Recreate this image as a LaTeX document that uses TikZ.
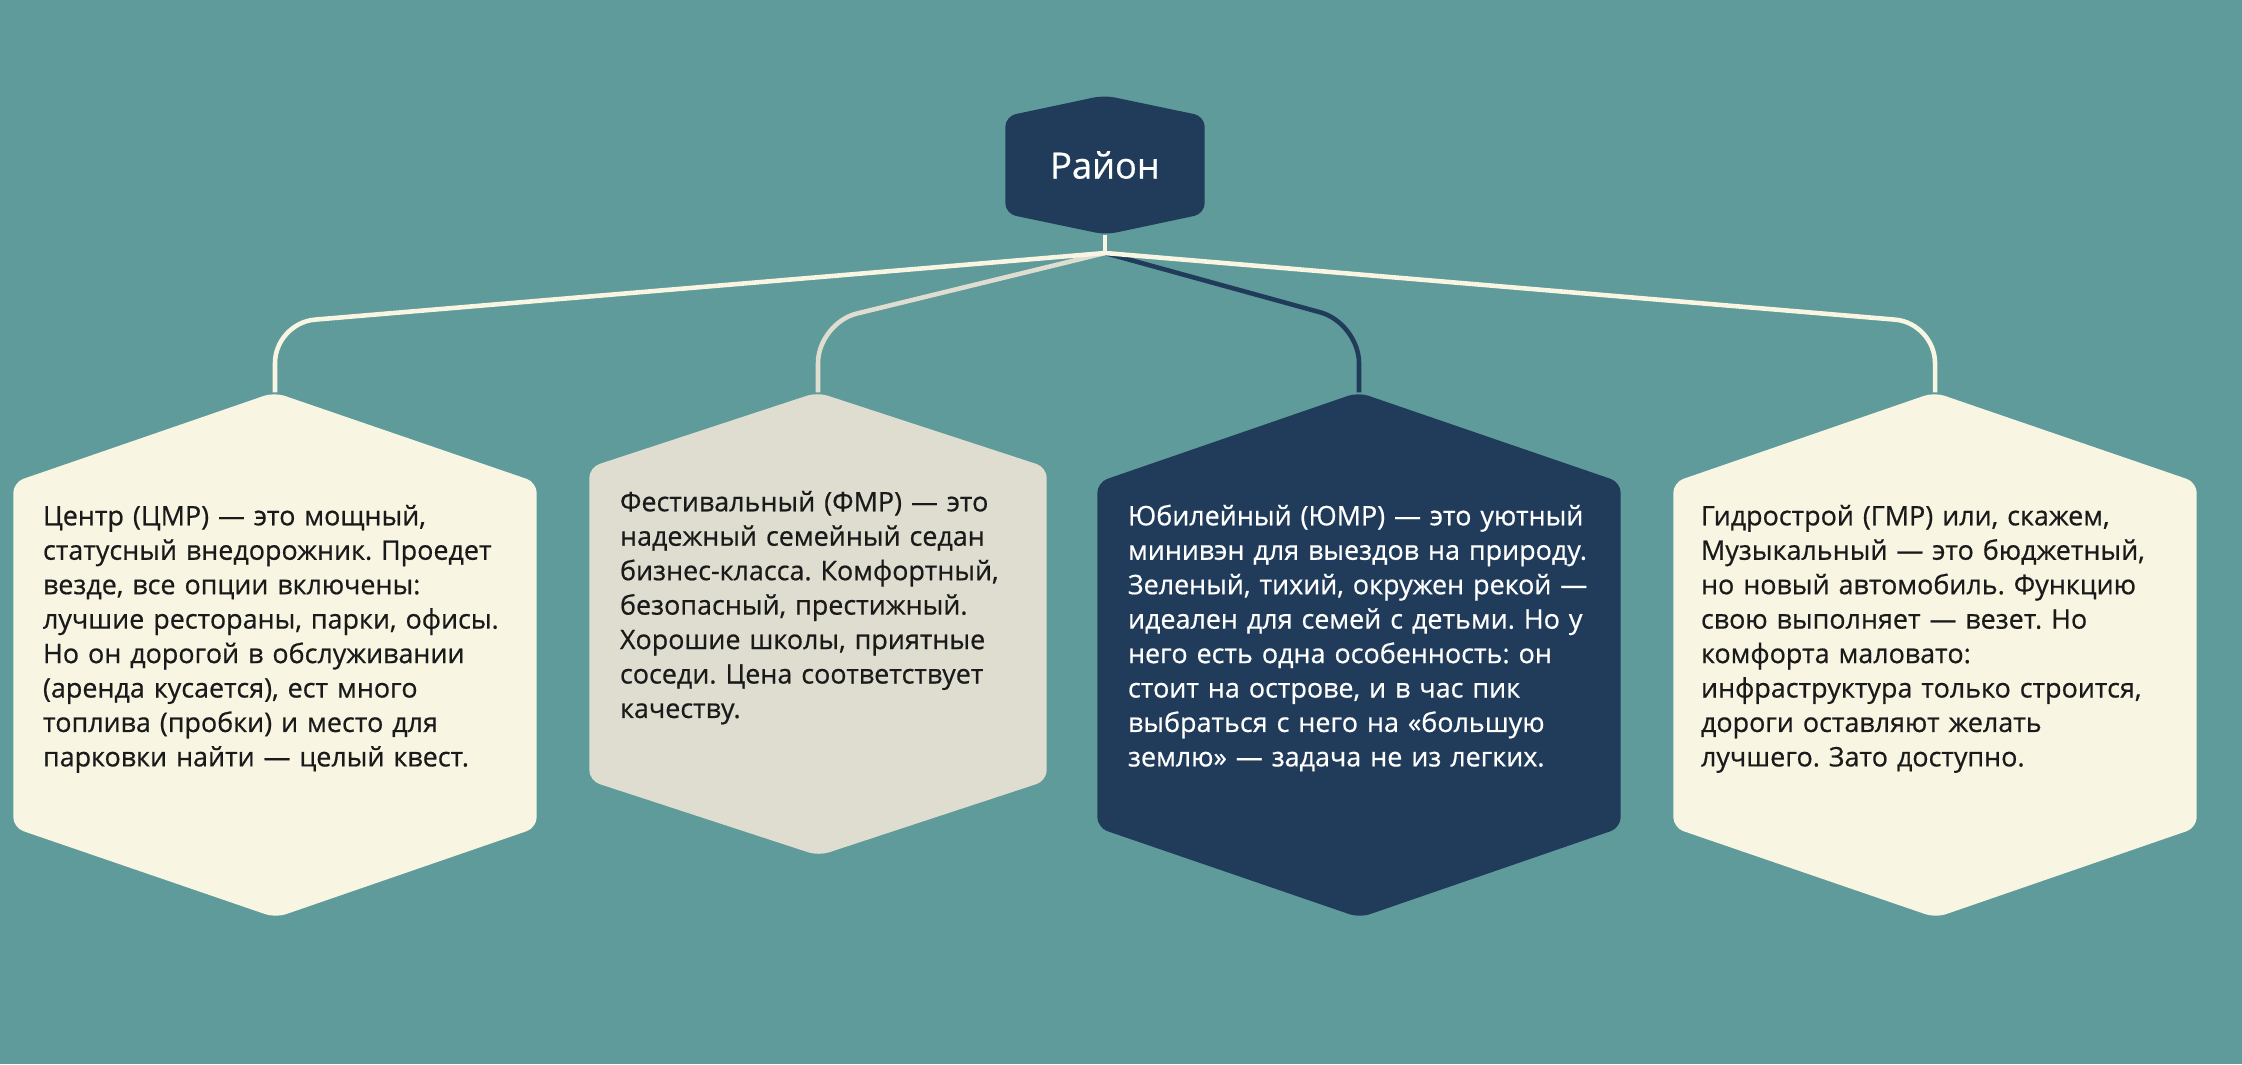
\documentclass[tikz,border=0pt]{standalone}
\usepackage{fontspec}
\setmainfont{Open Sans}[FakeBold=0.6]
\frenchspacing
\definecolor{sea}{HTML}{5F9B9A}
\definecolor{navy}{HTML}{213C5A}
\definecolor{cream}{HTML}{F8F5E3}
\definecolor{sand}{HTML}{DEDDD0}
\definecolor{ink}{HTML}{1A1A1A}
\tikzset{
  frame/.style={rectangle, inner sep=0pt, minimum width=52.2mm, minimum height=34.4mm},
  hexfill/.style={rounded corners=3pt},
  blurb/.style={anchor=base west, inner sep=0pt, align=left, text width=50mm,
    font=\fontsize{7.65}{9.8}\selectfont, text=ink},
  link/.style={line width=1.3pt, rounded corners=4mm},
}

\begin{document}
\begin{tikzpicture}[x=0.1mm, y=-0.1mm]
  \fill[sea] (0,0) rectangle (2242,1064);
  \useasboundingbox (0,0) rectangle (2242,1064);

  \node (rayon) [frame, minimum width=19.8mm, minimum height=9.6mm] at (1105,165) {};
  \node (centr) [frame] at (275,655) {};
  \node (fest) [frame, minimum width=45.6mm, minimum height=31.2mm] at (818,624) {};
  \node (yubil) [frame] at (1359,655) {};
  \node (gidro) [frame] at (1935,655) {};

  \coordinate (rayon-bot) at ([yshift=-2.1mm]rayon.south);
  \coordinate (centr-top) at ([yshift=9mm]centr.north);
  \coordinate (fest-top) at ([yshift=7.5mm]fest.north);
  \coordinate (yubil-top) at ([yshift=9mm]yubil.north);
  \coordinate (gidro-top) at ([yshift=9mm]gidro.north);
  \coordinate (split) at (1105,253);
  \coordinate (knee) at (1105,323);

  \draw[link, cream] (rayon-bot) -- (split);
  \draw[link, navy] (split) -- (knee -| yubil-top) -- (yubil-top);
  \draw[link, sand] (split) -- (knee -| fest-top) -- (fest-top);
  \draw[link, cream] (split) -- (knee -| centr-top) -- (centr-top);
  \draw[link, cream] (split) -- (knee -| gidro-top) -- (gidro-top);

  \fill[navy, hexfill] (rayon.north west) -- ++(99,-21) -- (rayon.north east)
    -- (rayon.south east) -- ++(-99,21) -- (rayon.south west) -- cycle;
  \fill[cream, hexfill] (centr.north west) -- ++(261,-90) -- (centr.north east)
    -- (centr.south east) -- ++(-261,90) -- (centr.south west) -- cycle;
  \fill[sand, hexfill] (fest.north west) -- ++(228,-75) -- (fest.north east)
    -- (fest.south east) -- ++(-228,75) -- (fest.south west) -- cycle;
  \fill[navy, hexfill] (yubil.north west) -- ++(261,-90) -- (yubil.north east)
    -- (yubil.south east) -- ++(-261,90) -- (yubil.south west) -- cycle;
  \fill[cream, hexfill] (gidro.north west) -- ++(261,-90) -- (gidro.north east)
    -- (gidro.south east) -- ++(-261,90) -- (gidro.south west) -- cycle;

  \node (rayon-txt) [text=white, font=\fontsize{10.3}{12}\selectfont] at (rayon) {Район};
  \node (centr-txt) [blurb] at ([shift={(2.9mm,-4.3mm)}]centr.north west)
    {Центр (ЦМР) — это мощный,\\ статусный внедорожник. Проедет\\ везде, все опции включены:\\
     лучшие рестораны, парки, офисы.\\ Но он дорогой в обслуживании\\ (аренда кусается), ест много\\
     топлива (пробки) и место для\\ парковки найти — целый квест.};
  \node (fest-txt) [blurb] at ([shift={(3mm,-4.4mm)}]fest.north west)
    {Фестивальный (ФМР) — это\\ надежный семейный седан\\ бизнес-класса. Комфортный,\\
     безопасный, престижный.\\ Хорошие школы, приятные\\ соседи. Цена соответствует\\ качеству.};
  \node (yubil-txt) [blurb, text=white] at ([shift={(3mm,-4.3mm)}]yubil.north west)
    {Юбилейный (ЮМР) — это уютный\\ минивэн для выездов на природу.\\ Зеленый, тихий, окружен рекой —\\
     идеален для семей с детьми. Но у\\ него есть одна особенность: он\\ стоит на острове, и в час пик\\
     выбраться с него на «большую\\ землю» — задача не из легких.};
  \node (gidro-txt) [blurb] at ([shift={(2.7mm,-4.3mm)}]gidro.north west)
    {Гидрострой (ГМР) или, скажем,\\ Музыкальный — это бюджетный,\\ но новый автомобиль. Функцию\\
     свою выполняет — везет. Но\\ комфорта маловато:\\ инфраструктура только строится,\\
     дороги оставляют желать\\ лучшего. Зато доступно.};
\end{tikzpicture}
\end{document}
